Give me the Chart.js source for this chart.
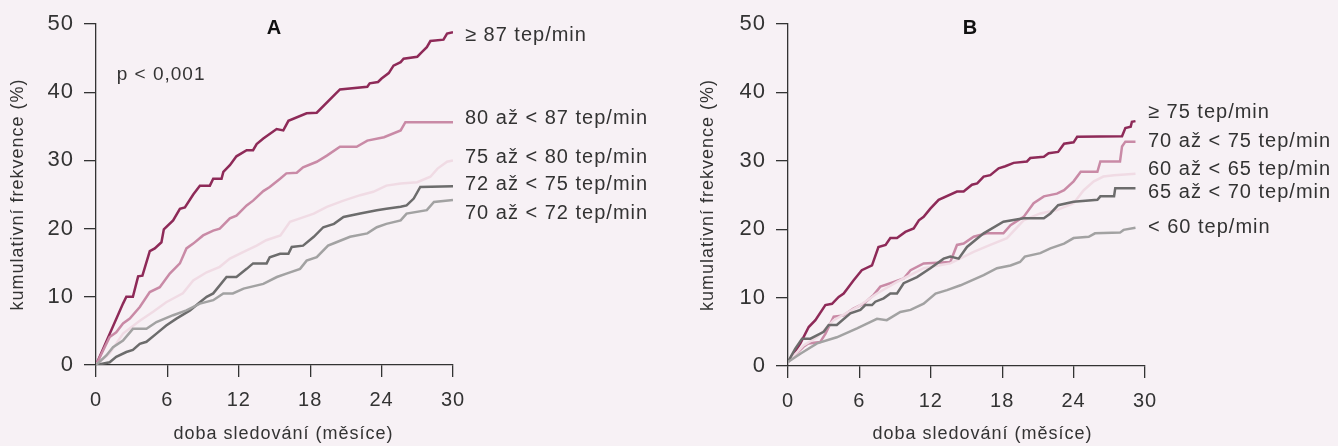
<!DOCTYPE html>
<html>
<head>
<meta charset="utf-8">
<script src="https://cdn.jsdelivr.net/npm/chart.js@4.4.0/dist/chart.umd.min.js"></script>
<style>
    html, body { margin: 0; padding: 0; background: #f7f1f5; }
    #wrap { position: relative; width: 1338px; height: 446px; }
    .box { position: absolute; top: 0; width: 669px; height: 446px; }
    #boxA { left: 0; }
    #boxB { left: 669px; }
</style>
</head>
<body>
<div id="wrap">
    <div class="box" id="boxA"><canvas id="chartA" width="669" height="446"></canvas></div>
    <div class="box" id="boxB"><canvas id="chartB" width="669" height="446"></canvas></div>
</div>
<script>
// months / cumulative frequency (%) pairs

// panel A
const a87 = [[0,0],[2.27,9.0],[2.55,10.0],[3.1,10.0],[3.54,13.0],[3.9,13.1],[4.52,16.7],[4.94,17.1],[5.5,18.0],[5.7,19.9],
    [6.48,21.2],[7.05,22.9],[7.47,23.1],[8.17,25.0],[8.73,26.3],[9.57,26.3],[9.85,27.3],[10.55,27.3],[10.7,28.3],[11.25,29.3],
    [11.8,30.6],[12.66,31.5],[13.2,31.5],[13.5,32.4],[14.06,33.2],[15.18,34.6],[15.74,34.4],[16.17,35.8],[17.7,36.9],[18.55,37.0],
    [20.5,40.4],[22.8,40.8],[23.0,41.3],[23.7,41.5],[24.0,42.0],[24.6,42.8],[25.0,43.9],[25.6,44.4],[25.85,44.9],[27.0,45.2],
    [27.4,45.9],[27.8,46.6],[28.1,47.5],[29.2,47.7],[29.5,48.6],[30,48.8]];
const a80 = [[0,0],[1.15,4.1],[1.7,4.8],[2.27,6.1],[2.84,6.8],[3.68,8.5],[4.52,10.7],[5.36,11.4],[6.2,13.4],[7.05,14.9],
    [7.6,17.1],[8.17,17.8],[9.0,19.0],[9.85,19.7],[10.4,20.0],[11.25,21.5],[11.8,21.9],[12.66,23.4],[13.2,24.1],[14.06,25.5],
    [14.6,26.1],[15.47,27.3],[16.0,28.1],[16.87,28.2],[17.4,29.0],[18.55,29.8],[19.4,30.7],[20.5,32.0],[21.9,32.0],[22.8,32.9],
    [24.2,33.4],[25.6,34.4],[26.0,35.6],[30,35.6]];
const a75 = [[0,0],[1.15,1.7],[2.27,4.6],[3.68,6.5],[4.8,7.8],[5.9,9.2],[7.3,10.5],[8.17,12.4],[9.3,13.6],[10.4,14.4],
    [11.25,15.6],[12.4,16.6],[13.5,17.5],[14.3,18.3],[15.5,19.0],[16.3,21.0],[17.15,21.5],[18.3,22.2],[19.4,23.2],[20.8,24.1],
    [22.2,24.9],[23.3,25.4],[24.4,26.3],[25.6,26.6],[27.0,26.8],[28.1,27.6],[28.7,28.8],[29.5,29.8],[30,30.0]];
const a72 = [[0,0],[1.15,0.4],[1.7,1.2],[2.55,1.9],[3.1,2.2],[3.68,3.1],[4.24,3.4],[5.08,4.6],[5.9,5.8],[6.76,6.8],
    [7.9,8.0],[8.73,9.2],[9.3,10.0],[9.85,10.5],[10.97,12.9],[11.8,12.9],[12.66,14.1],[13.2,14.9],[14.34,14.9],[14.6,15.8],
    [15.47,16.3],[16.17,16.3],[16.45,17.3],[17.4,17.5],[18.3,18.8],[19.1,20.2],[20.0,20.7],[20.8,21.7],[22.2,22.2],[23.6,22.7],
    [24.4,22.9],[25.6,23.2],[26.1,23.4],[26.7,24.4],[27.25,26.1],[30,26.2]];
const a70 = [[0,0],[0.87,1.4],[1.43,2.6],[2.27,3.6],[3.1,5.3],[4.24,5.3],[5.08,6.3],[6.48,7.3],[7.6,8.0],[8.73,9.0],
    [9.85,9.5],[10.7,10.5],[11.5,10.5],[12.4,11.2],[14.06,11.9],[15.2,12.9],[16.0,13.4],[17.15,14.1],[17.7,15.3],[18.55,15.8],
    [19.5,17.5],[20.2,18.0],[21.35,18.8],[22.8,19.3],[23.6,20.2],[24.4,20.7],[25.6,21.2],[26.1,22.2],[27.8,22.7],[28.4,23.9],[30,24.2]];

// panel B
const b75 = [[0,0.6],[1.04,3.3],[1.74,5.7],[2.3,6.7],[3.14,8.9],[3.7,9.1],[4.26,10.1],[4.68,10.6],[5.5,12.5],[6.2,14.0],
    [7.06,14.7],[7.6,17.4],[8.2,17.7],[8.6,18.7],[9.16,18.7],[9.86,19.6],[10.56,20.1],[11.0,21.3],[11.4,21.8],[11.96,23.0],
    [12.66,24.3],[14.2,25.5],[14.76,25.5],[15.46,26.5],[15.9,26.7],[16.44,27.7],[17.0,27.9],[17.7,28.9],[18.26,29.2],[18.96,29.7],
    [20.08,29.9],[20.36,30.4],[21.5,30.6],[21.9,31.1],[22.7,31.3],[23.2,32.5],[24.0,32.7],[24.3,33.5],[28.07,33.6],[28.35,34.8],
    [28.8,35.0],[28.9,35.7],[29.2,35.8]];
const b70 = [[0,0.6],[1.3,2.8],[1.7,3.3],[2.7,3.5],[3.14,4.7],[3.84,7.2],[4.68,7.4],[5.5,8.4],[6.36,9.1],[7.2,10.4],
    [7.76,11.6],[8.6,12.1],[9.72,12.8],[10.3,14.0],[11.4,15.0],[13.64,15.2],[14.2,17.7],[14.76,17.9],[15.6,18.9],[16.7,19.4],
    [18.1,19.4],[18.7,20.6],[19.8,21.8],[20.64,23.8],[21.5,24.8],[22.6,25.2],[23.2,25.7],[24.0,27.0],[24.6,28.4],[26.0,28.4],
    [26.25,29.9],[27.9,29.9],[28.07,32.1],[28.35,32.8],[29.2,32.8]];
const b60 = [[0,0.6],[1.3,3.0],[2.44,4.2],[3.84,6.7],[5.8,8.6],[7.48,10.6],[9.16,12.3],[11.4,14.3],[13.64,15.0],[15.6,16.7],
    [17.0,17.7],[18.4,18.7],[19.8,21.3],[21.2,22.3],[22.6,22.8],[24.0,23.8],[24.85,25.7],[25.7,27.0],[26.5,27.7],[27.4,27.9],[29.2,28.1]];
const b65 = [[0,0.6],[0.6,2.5],[1.18,4.0],[1.88,4.0],[3.0,5.0],[3.42,6.0],[4.1,6.0],[5.24,7.7],[6.08,8.2],[6.5,8.9],
    [7.06,8.9],[7.34,9.4],[8.04,9.9],[8.6,10.6],[9.16,10.6],[9.72,12.1],[10.84,13.0],[11.96,14.3],[13.08,15.7],[13.64,16.0],
    [14.34,15.7],[15.04,17.4],[16.44,19.4],[18.1,21.1],[19.8,21.6],[21.5,21.6],[22.05,22.3],[22.7,23.5],[24.0,24.0],[26.0,24.3],
    [26.25,24.8],[27.4,24.8],[27.5,26.0],[29.2,26.0]];
const b59 = [[0,0.6],[1.04,1.8],[2.44,3.3],[4.1,4.2],[5.8,5.5],[6.9,6.4],[7.48,6.9],[8.3,6.7],[9.44,7.9],[10.3,8.2],
    [11.4,9.1],[12.4,10.6],[13.36,11.1],[14.5,11.8],[16.44,13.3],[17.56,14.3],[18.7,14.7],[19.5,15.2],[19.9,16.0],[21.2,16.5],
    [22.05,17.2],[23.2,17.9],[24.0,18.7],[25.27,18.9],[25.8,19.4],[27.9,19.5],[28.2,19.9],[29.2,20.2]];

const labelsA = ['\u2265 87 tep/min', '80 až < 87 tep/min', '75 až < 80 tep/min', '72 až < 75 tep/min', '70 až < 72 tep/min'];
const labelsB = ['\u2265 75 tep/min', '70 až < 75 tep/min', '60 až < 65 tep/min', '65 až < 70 tep/min', '< 60 tep/min'];
// label anchors on the y scale (%)
const labelYA = [48.3, 36.1, 30.5, 26.4, 22.2];
const labelYB = [37.0, 32.8, 28.8, 25.3, 20.2];
const xTicks = [0, 6, 12, 18, 24, 30];
const yTicks = [0, 10, 20, 30, 40, 50];

const colors = ['#8e2a58', '#c98aa6', '#f0dbe4', '#6c6c6c', '#a2a2a2'];
const textColor = '#333333';
const fontFamily = '"Liberation Sans", Arial, sans-serif';

const toPoints = arr => arr.map(p => ({ x: p[0], y: p[1] }));

// the source font is set wider than Arial, so open the letters up a little
const spacingPlugin = {
    id: 'spacing',
    beforeLayout(chart) { chart.ctx.letterSpacing = '1px'; },
    beforeDraw(chart) { chart.ctx.letterSpacing = '1px'; }
};

const textPlugin = {
    id: 'panelText',
    afterDraw(chart, args, opts) {
        const ctx = chart.ctx;
        const area = chart.chartArea;
        const ys = chart.scales.y;
        const xs = chart.scales.x;
        const midX = (area.left + area.right) / 2;
        ctx.save();
        ctx.textBaseline = 'middle';

        ctx.fillStyle = '#111111';
        ctx.font = 'bold 20px ' + fontFamily;
        ctx.textAlign = 'center';
        ctx.fillText(opts.title, midX + opts.titleDx, area.top + 4);

        ctx.fillStyle = textColor;
        ctx.font = '18px ' + fontFamily;
        ctx.fillText('doba sledování (měsíce)', midX + opts.xTitleDx, chart.height - 12);

        ctx.textAlign = 'left';
        if (opts.pText) {
            ctx.font = '19px ' + fontFamily;
            ctx.fillText(opts.pText, xs.getPixelForValue(1.74), ys.getPixelForValue(42.5));
        }

        ctx.font = '20px ' + fontFamily;
        opts.labels.forEach((t, i) => {
            ctx.fillText(t, area.right + opts.labelDx, ys.getPixelForValue(opts.labelY[i]));
        });
        ctx.restore();
    }
};

function makeChart(el, series, cfg) {
    const datasets = series.map((s, i) => ({
        data: toPoints(s),
        borderColor: colors[i],
        backgroundColor: colors[i],
        borderWidth: 2.5,
        pointRadius: 0,
        tension: 0,
        fill: false
    })).reverse();

    const axisCommon = {
        grid: { drawOnChartArea: false, drawTicks: true, tickLength: 12, color: textColor, lineWidth: 1.3 },
        border: { display: true, color: textColor, width: 1.3 },
    };

    return new Chart(el, {
        type: 'line',
        data: { datasets: datasets },
        options: {
            responsive: false,
            animation: false,
            layout: { padding: { left: 0, top: cfg.top, right: cfg.right, bottom: 0 } },
            plugins: {
                legend: { display: false },
                tooltip: { enabled: false },
                panelText: {
                    title: cfg.title, titleDx: cfg.titleDx, xTitleDx: cfg.xTitleDx, pText: cfg.pText,
                    labels: cfg.labels, labelY: cfg.labelY, labelDx: cfg.labelDx
                }
            },
            scales: {
                x: Object.assign({}, axisCommon, {
                    type: 'linear', min: 0, max: 30,
                    afterBuildTicks: s => { s.ticks = xTicks.map(v => ({ value: v })); },
                    afterFit: s => { s.height = cfg.bottomH; },
                    ticks: { color: textColor, font: { family: fontFamily, size: 20 }, padding: 11, maxRotation: 0 }
                }),
                y: Object.assign({}, axisCommon, {
                    min: 0, max: 50,
                    afterBuildTicks: s => { s.ticks = yTicks.map(v => ({ value: v })); },
                    afterFit: s => { s.width = cfg.leftW; },
                    ticks: { color: textColor, font: { family: fontFamily, size: 22 }, padding: 10 },
                    title: { display: true, text: 'kumulativní frekvence (%)', color: textColor,
                        font: { family: fontFamily, size: 18 }, padding: { top: cfg.yTitlePad, bottom: 0 } }
                })
            }
        },
        plugins: [spacingPlugin, textPlugin]
    });
}

makeChart(document.getElementById('chartA'), [a87, a80, a75, a72, a70], {
    title: 'A', titleDx: 0, xTitleDx: 9, pText: 'p < 0,001',
    labels: labelsA, labelY: labelYA, labelDx: 12,
    top: 24, right: 216, leftW: 96, bottomH: 81, yTitlePad: 7
});

makeChart(document.getElementById('chartB'), [b75, b70, b60, b65, b59], {
    title: 'B', titleDx: 4, xTitleDx: 16, pText: null,
    labels: labelsB, labelY: labelYB, labelDx: 3,
    top: 24, right: 193, leftW: 119, bottomH: 80, yTitlePad: 28
});
</script>
</body>
</html>
